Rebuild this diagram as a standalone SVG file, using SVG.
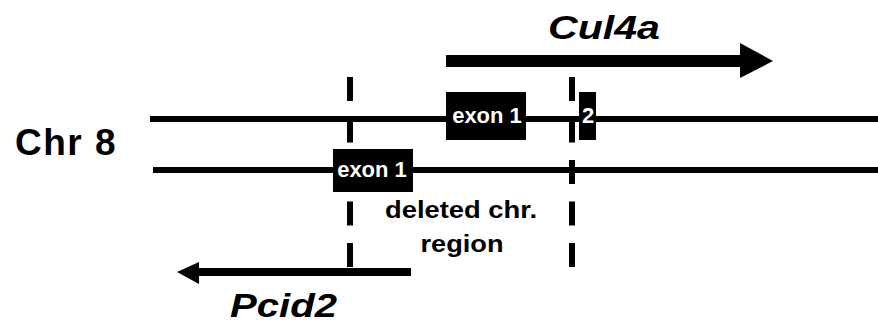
<svg xmlns="http://www.w3.org/2000/svg" width="878" height="326" viewBox="0 0 878 326">
<style>
.chr{stroke:#000;stroke-width:6;fill:none}
.dash{stroke:#000;stroke-width:6;fill:none;stroke-dasharray:24 17.5}
.box{fill:#000}
.bt{font-family:"Liberation Sans",Arial,sans-serif;font-weight:bold;font-size:22px;fill:#fff;text-anchor:middle}
.lbl{font-family:"Liberation Sans",Arial,sans-serif;font-weight:bold;fill:#000}
.gene{font-family:"Liberation Sans",Arial,sans-serif;font-weight:bold;font-style:italic;font-size:33px;fill:#000}
</style>
<rect width="878" height="326" fill="#fff"/>
<g id="chr-label"><text class="lbl" x="15" y="155" font-size="37" letter-spacing="1.5">Chr 8</text></g>
<g id="connectors">
<line class="chr" x1="150" y1="119" x2="878" y2="119"/>
<line class="chr" x1="153" y1="170" x2="878" y2="170"/>
<line class="dash" x1="350" y1="77" x2="350" y2="267"/>
<line class="dash" x1="572" y1="77" x2="572" y2="267"/>
</g>
<g id="cul4a-arrow">
<rect x="446" y="55" width="296" height="12" fill="#000"/>
<polygon points="740,43 773,61 740,78" fill="#000"/>
<text class="gene" x="548" y="39" textLength="112" lengthAdjust="spacingAndGlyphs">Cul4a</text>
</g>
<g id="pcid2-arrow">
<rect x="197" y="268" width="214" height="8" fill="#000"/>
<polygon points="199,262 177,272 199,284" fill="#000"/>
<text class="gene" x="230" y="317" textLength="107" lengthAdjust="spacingAndGlyphs">Pcid2</text>
</g>
<g id="cul4a-exon1">
<rect class="box" x="446" y="92" width="80" height="48"/>
<text class="bt" x="487" y="123">exon 1</text>
</g>
<g id="cul4a-exon2">
<rect class="box" x="579" y="92" width="17" height="48"/>
<text class="bt" x="588" y="123">2</text>
</g>
<g id="pcid2-exon1">
<rect class="box" x="333" y="149" width="80" height="43"/>
<text class="bt" x="372" y="177">exon 1</text>
</g>
<g id="deleted-label">
<text class="lbl" font-size="23" text-anchor="middle"><tspan x="461" y="218" textLength="152" lengthAdjust="spacingAndGlyphs">deleted chr.</tspan><tspan x="462" y="252" textLength="83" lengthAdjust="spacingAndGlyphs">region</tspan></text>
</g>
</svg>
